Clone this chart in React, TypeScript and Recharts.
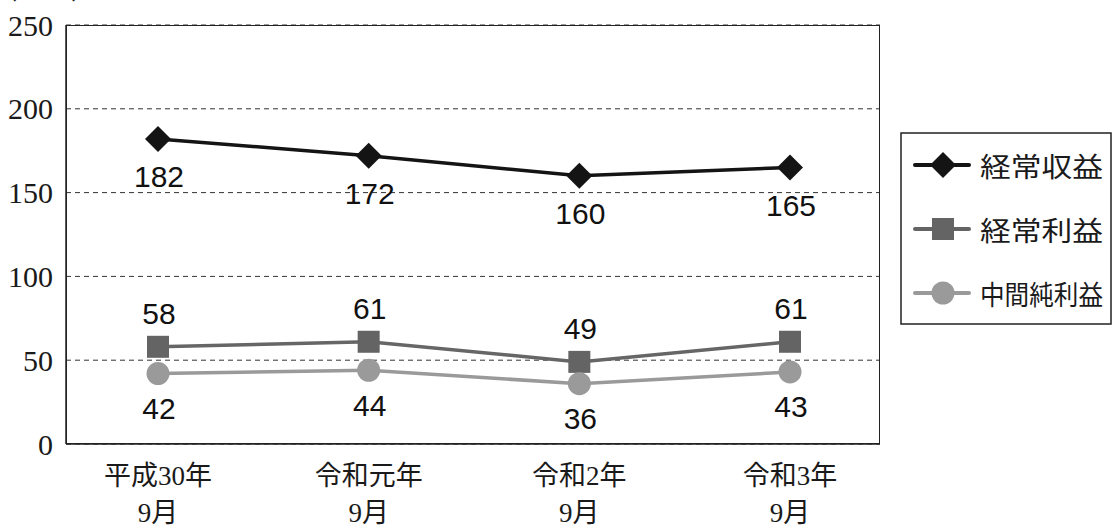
import { CartesianGrid, Customized, LabelList, Line, LineChart, XAxis, YAxis } from 'recharts';

const periods = ['平成30年|9月', '令和元年|9月', '令和2年|9月', '令和3年|9月'];
const ordinaryIncome = [182, 172, 160, 165];
const ordinaryProfit = [58, 61, 49, 61];
const interimNetProfit = [42, 44, 36, 43];
const yTicks = [0, 50, 100, 150, 200, 250];

const seriesMeta = [
  { key: 'income', name: '経常収益', color: '#141414', shape: 'diamond' },
  { key: 'profit', name: '経常利益', color: '#646464', shape: 'square' },
  { key: 'net', name: '中間純利益', color: '#9a9a9a', shape: 'circle' },
];

const data = periods.map((period, i) => ({
  period,
  income: ordinaryIncome[i],
  profit: ordinaryProfit[i],
  net: interimNetProfit[i],
}));

const SERIF = "'Liberation Serif', 'DejaVu Serif', 'Noto Sans CJK JP', serif";
const SANS = "'Liberation Sans', Arial, sans-serif";
const CJK = "'Noto Sans CJK JP', sans-serif";

function Marker({ cx, cy, shape, color }: any) {
  if (cx == null || cy == null) return null;
  if (shape === 'diamond') {
    const r = 13;
    return <polygon points={`${cx},${cy - r} ${cx + r},${cy} ${cx},${cy + r} ${cx - r},${cy}`} fill={color} />;
  }
  if (shape === 'square') {
    return <rect x={cx - 11} y={cy - 11} width={22} height={22} fill={color} />;
  }
  return <circle cx={cx} cy={cy} r={11.5} fill={color} />;
}

const valueLabel = (dy: number) => (props: any) => {
  const { x, y, value } = props;
  return (
    <text x={x + 1} y={y + dy} textAnchor="middle" dominantBaseline="central" fontFamily={SANS} fontSize={30} fill="#111">
      {value}
    </text>
  );
};

function PeriodTick({ x, y, payload }: any) {
  const [line1, line2] = String(payload.value).split('|');
  return (
    <text x={x} textAnchor="middle" style={{ fontFamily: SERIF }} fontSize={27} fill="#1a1a1a">
      <tspan x={x} y={y + 33}>{line1}</tspan>
      <tspan x={x} y={y + 70}>{line2}</tspan>
    </text>
  );
}

function ValueTick({ x, y, payload }: any) {
  return (
    <text x={x} y={y} textAnchor="end" dominantBaseline="central" style={{ fontFamily: SERIF }} fontSize={30} fill="#1a1a1a">
      {payload.value}
    </text>
  );
}

// legend drawn as a separate box to the right of the plot
function LegendBox() {
  return (
    <svg width={212} height={194} style={{ position: 'absolute', left: 900, top: 132 }}>
      <rect x={1} y={1} width={210} height={191} fill="#fff" stroke="#222" strokeWidth={1.5} />
      {seriesMeta.map((s, i) => {
        const cy = 33 + i * 64;
        return (
          <g key={s.key}>
            <line x1={15} y1={cy} x2={69} y2={cy} stroke={s.color} strokeWidth={4} strokeLinecap="round" />
            <Marker cx={43} cy={cy} shape={s.shape} color={s.color} />
            <text x={80} y={cy} dominantBaseline="central" fontFamily={CJK} fontSize={27} textLength={123} lengthAdjust="spacingAndGlyphs" fill="#1a1a1a">
              {s.name}
            </text>
          </g>
        );
      })}
    </svg>
  );
}

function UnitLabel() {
  return (
    <text x={8} y={-4} fontFamily={CJK} fontSize={27} fill="#1a1a1a">
      (億円)
    </text>
  );
}

export default function App() {
  return (
    <div style={{ position: 'absolute', left: 0, top: 0, width: 1112, height: 525, background: '#fff', overflow: 'hidden' }}>
      <LineChart width={1112} height={525} data={data} margin={{ top: 25, right: 232, bottom: 0, left: 0 }} style={{ overflow: 'visible' }}>
        <CartesianGrid vertical={false} stroke="#333" strokeDasharray="5 4" strokeWidth={1} />
        <XAxis
          dataKey="period"
          height={81}
          padding={{ left: 92, right: 90 }}
          axisLine={{ stroke: '#222', strokeWidth: 1.5 }}
          tickLine={false}
          tick={<PeriodTick />}
          interval={0}
        />
        <YAxis
          domain={[0, 250]}
          ticks={yTicks}
          width={66}
          axisLine={{ stroke: '#222', strokeWidth: 1.5 }}
          tickLine={false}
          tickSize={0}
          tickMargin={13}
          tick={<ValueTick />}
          interval={0}
        />
        <Line
          dataKey="income"
          name="経常収益"
          stroke="#141414"
          strokeWidth={3.5}
          isAnimationActive={false}
          dot={(p: any) => <Marker key={`i${p.index}`} cx={p.cx} cy={p.cy} shape="diamond" color="#141414" />}
          activeDot={false}
        >
          <LabelList dataKey="income" content={valueLabel(38)} />
        </Line>
        <Line
          dataKey="profit"
          name="経常利益"
          stroke="#666"
          strokeWidth={3.5}
          isAnimationActive={false}
          dot={(p: any) => <Marker key={`p${p.index}`} cx={p.cx} cy={p.cy} shape="square" color="#646464" />}
          activeDot={false}
        >
          <LabelList dataKey="profit" content={valueLabel(-33)} />
        </Line>
        <Line
          dataKey="net"
          name="中間純利益"
          stroke="#9a9a9a"
          strokeWidth={3.5}
          isAnimationActive={false}
          dot={(p: any) => <Marker key={`n${p.index}`} cx={p.cx} cy={p.cy} shape="circle" color="#9a9a9a" />}
          activeDot={false}
        >
          <LabelList dataKey="net" content={valueLabel(35)} />
        </Line>
        <Customized component={UnitLabel} />
      </LineChart>
      {/* plot frame (top and right edges) */}
      <div style={{ position: 'absolute', left: 66, top: 25, width: 814, height: 419, border: '1.5px solid #222', boxSizing: 'border-box', pointerEvents: 'none' }} />
      <LegendBox />
    </div>
  );
}
